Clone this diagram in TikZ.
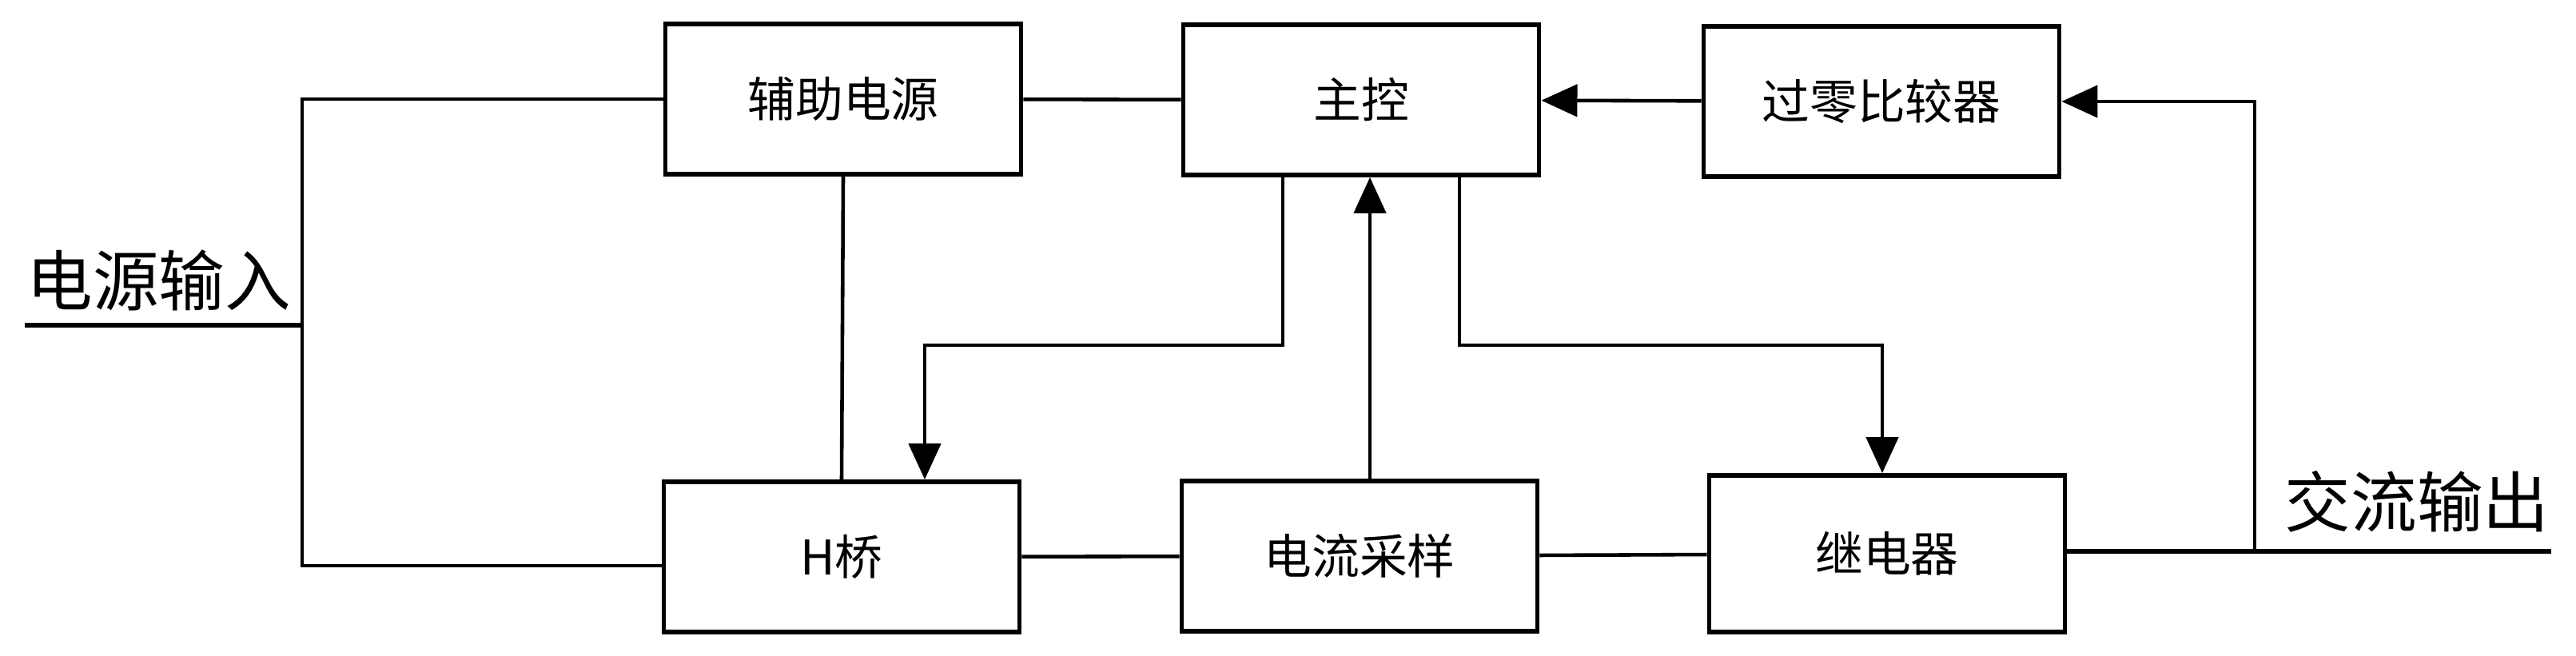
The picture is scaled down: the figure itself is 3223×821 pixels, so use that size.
\documentclass[tikz,border=0pt]{standalone}
\usepackage{fontspec}
\setmainfont{Noto Sans CJK SC}
\usetikzlibrary{arrows.meta}

\begin{document}
\begin{tikzpicture}[x=0.01cm, y=-0.01cm,
    block/.style={draw, line width=1.6pt, minimum width=4.45cm, minimum height=1.88cm, font=\fontsize{17}{20}\selectfont},
    wire/.style={line width=1.3pt},
    arr/.style={wire, -{Triangle[length=0.45cm, width=0.4cm]}},
    port/.style={font=\fontsize{23.5}{26}\selectfont}]
        \useasboundingbox (0,0) rectangle (3223,821);
        % blocks
        \node[block] (aux) at (1055,124) {辅助电源};
        \node[block] (main) at (1703,125) {主控};
        \node[block] (zc) at (2354,127) {过零比较器};
        \node[block] (hb) at (1053,697) {H桥};
        \node[block] (cs) at (1701,696) {电流采样};
        \node[block, minimum height=1.96cm] (relay) at (2361,693) {继电器};
        % input side
        \coordinate (in) at (31,407);
        \coordinate (jn) at (378,407);
        \node[port] (inlabel) at (199,351) {电源输入};
        \draw[wire, line width=1.7pt] (in) -- (jn);
        \draw[wire] (aux.west) -| (jn) |- ([yshift=-0.11cm]hb.west);
        \draw[wire] (aux) -- (main);
        \draw[wire] (aux.south) -- (hb.north);
        % control lines
        \coordinate (k1) at (1605,432);
        \coordinate (k2) at (1157,432);
        \coordinate (k3) at (1826,432);
        \coordinate (k4) at (2355,432);
        \draw[arr] (main.south -| k1) -- (k1) -- (k2) -- (hb.north -| k2);
        \draw[arr] (main.south -| k3) -- (k3) -- (k4) -- (relay.north -| k4);
        \draw[arr] ([xshift=0.13cm]cs.north) -- ([xshift=0.13cm]cs.north |- main.south);
        \draw[arr] (zc) -- (main);
        % power path
        \draw[wire] (hb) -- (cs);
        \draw[wire] (cs) -- (relay);
        % output side
        \coordinate (tap) at (2821,690);
        \coordinate (out) at (3192,690);
        \node[port] (outlabel) at (3024,628) {交流输出};
        \draw[wire, line width=1.7pt] (relay.east |- out) -- (out);
        \draw[arr] (tap) |- (zc.east);
\end{tikzpicture}
\end{document}
